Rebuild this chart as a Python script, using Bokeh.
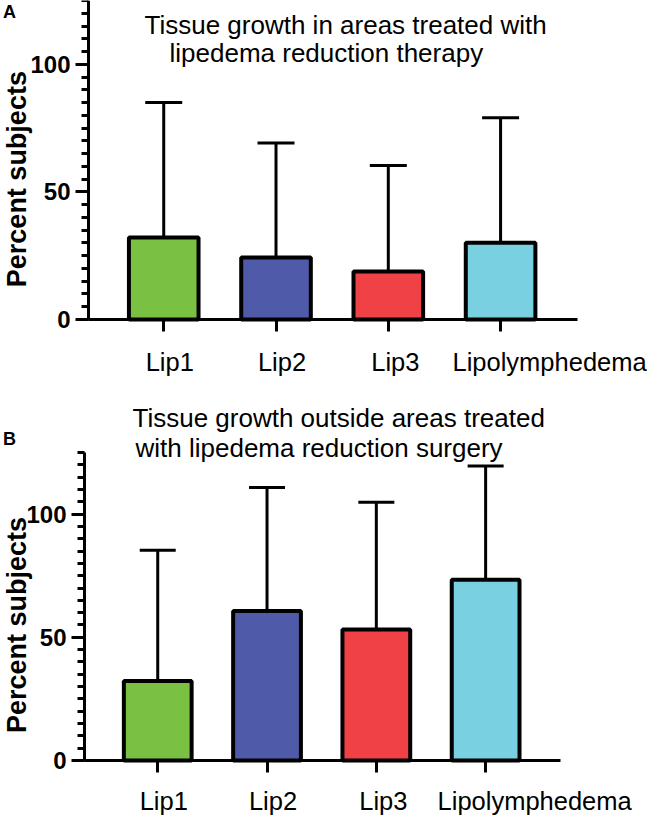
import math
from bokeh.plotting import figure
from bokeh.models import (Range1d, FixedTicker, SingleIntervalTicker, ColumnDataSource,
                          Whisker, TeeHead, Label)
from bokeh.layouts import column
from bokeh.core.properties import value
from bokeh.embed import file_html
from bokeh.resources import INLINE

# ---------------- data ----------------
categories = ["Lip1", "Lip2", "Lip3", "Lipolymphedema"]
bar_colors = ["#7AC143", "#4F5AA8", "#EF4146", "#79D0E0"]

treated_mean = [32.1, 24.3, 18.8, 30.1]
treated_upper = [85.0, 69.2, 60.3, 79.1]

outside_mean = [32.3, 60.7, 53.2, 73.4]
outside_upper = [85.3, 110.8, 104.8, 119.5]

y_major_interval = 50
y_max = 125

title_a = ["Tissue growth in areas treated with", "lipedema reduction therapy"]
title_b = ["Tissue growth outside areas treated", "with lipedema reduction surgery"]
y_label = "Percent subjects"

# ---------------- style / layout ----------------
FONT = "Liberation Sans"
X0, X1 = -0.67, 3.685
W = 650
label_shift = [6, 6, 7, 49]      # px shift of the category labels


def make_panel(means, uppers, fig_top, H, fl, fr, ft, fb, cap, letter, titles,
               letter_pos, title_pos, ylab_x, lab_off):
    sx = (X1 - X0) / (fr - fl)
    xs = X0 - fl * sx
    xe = X1 + (W - fr) * sx
    ft_c, fb_c = ft - fig_top, fb - fig_top
    k = y_max / (fb_c - ft_c)
    ys = -(H - fb_c) * k
    ye = y_max + ft_c * k

    def d(px, py):
        return X0 + (px - fl) * sx, (fb - py) * k

    p = figure(width=W, height=H, x_range=Range1d(xs, xe), y_range=Range1d(ys, ye),
               output_backend="svg", toolbar_location=None, min_border=0)
    p.grid.visible = False
    p.outline_line_color = None
    p.background_fill_color = "white"
    p.border_fill_color = "white"

    n = len(categories)
    src = ColumnDataSource(dict(x=list(range(n)), mean=means, upper=uppers,
                                color=bar_colors, cat=categories, dx=label_shift))
    p.add_layout(Whisker(base="x", lower="mean", upper="upper", source=src, line_width=3,
                         line_color="black", lower_head=None,
                         upper_head=TeeHead(size=cap, line_width=3, line_color="black")))
    p.vbar(x="x", top="mean", bottom=0, width=0.62, fill_color="color",
           line_color="black", line_width=4, source=src)

    ya = p.yaxis[0]
    ya.fixed_location = X0
    ya.bounds = (0, y_max)
    ya.ticker = SingleIntervalTicker(interval=y_major_interval, num_minor_ticks=10)
    ya.axis_line_width = 3
    ya.axis_line_color = "black"
    ya.major_tick_line_width = 3
    ya.minor_tick_line_width = 3
    ya.major_tick_out = 13
    ya.major_tick_in = 0
    ya.minor_tick_out = 7
    ya.minor_tick_in = 0
    ya.major_label_text_font = FONT
    ya.major_label_text_font_size = "24px"
    ya.major_label_text_font_style = "bold"
    ya.major_label_text_color = "black"
    ya.major_label_standoff = 5

    xa = p.xaxis[0]
    xa.fixed_location = 0
    xa.bounds = (X0, X1)
    xa.ticker = FixedTicker(ticks=list(range(n)))
    xa.major_label_overrides = {i: "" for i in range(n)}
    xa.axis_line_width = 3
    xa.axis_line_color = "black"
    xa.major_tick_line_width = 3
    xa.major_tick_out = 12
    xa.major_tick_in = 0
    xa.minor_tick_line_color = None

    p.text(x="x", y=0, text="cat", source=src, x_offset="dx", y_offset=lab_off,
           text_font=value(FONT), text_font_size=value("25.5px"), text_align="center",
           text_baseline="alphabetic", text_color="black")

    lx, ly = d(*letter_pos)
    p.add_layout(Label(x=lx, y=ly, text=letter, text_font=FONT, text_font_size="18px",
                       text_font_style="bold", text_align="center", text_baseline="middle",
                       text_color="black"))
    for t, (px, py) in zip(titles, title_pos):
        tx, ty = d(px, py)
        p.add_layout(Label(x=tx, y=ty, text=t, text_font=FONT, text_font_size="26px",
                           text_align="left", text_baseline="alphabetic", text_color="black"))
    yx, _ = d(ylab_x, 0)
    p.add_layout(Label(x=yx, y=55, text=y_label, text_font=FONT, text_font_size="27px",
                       text_font_style="bold", angle=math.pi / 2, text_align="center",
                       text_baseline="middle", text_color="black"))
    return p


p1 = make_panel(treated_mean, treated_upper, fig_top=0, H=400, fl=88, fr=577, ft=0, fb=319,
                cap=37, letter="A", titles=title_a, letter_pos=(9, 11),
                title_pos=[(144, 24), (169, 52)], ylab_x=16, lab_off=42)
p2 = make_panel(outside_mean, outside_upper, fig_top=400, H=423, fl=84, fr=560, ft=452, fb=760,
                cap=36, letter="B", titles=title_b, letter_pos=(9, 438),
                title_pos=[(132, 417), (135, 447)], ylab_x=16, lab_off=40)

layout = column(p1, p2, spacing=0)
open("out.html", "w").write(file_html(layout, INLINE))
